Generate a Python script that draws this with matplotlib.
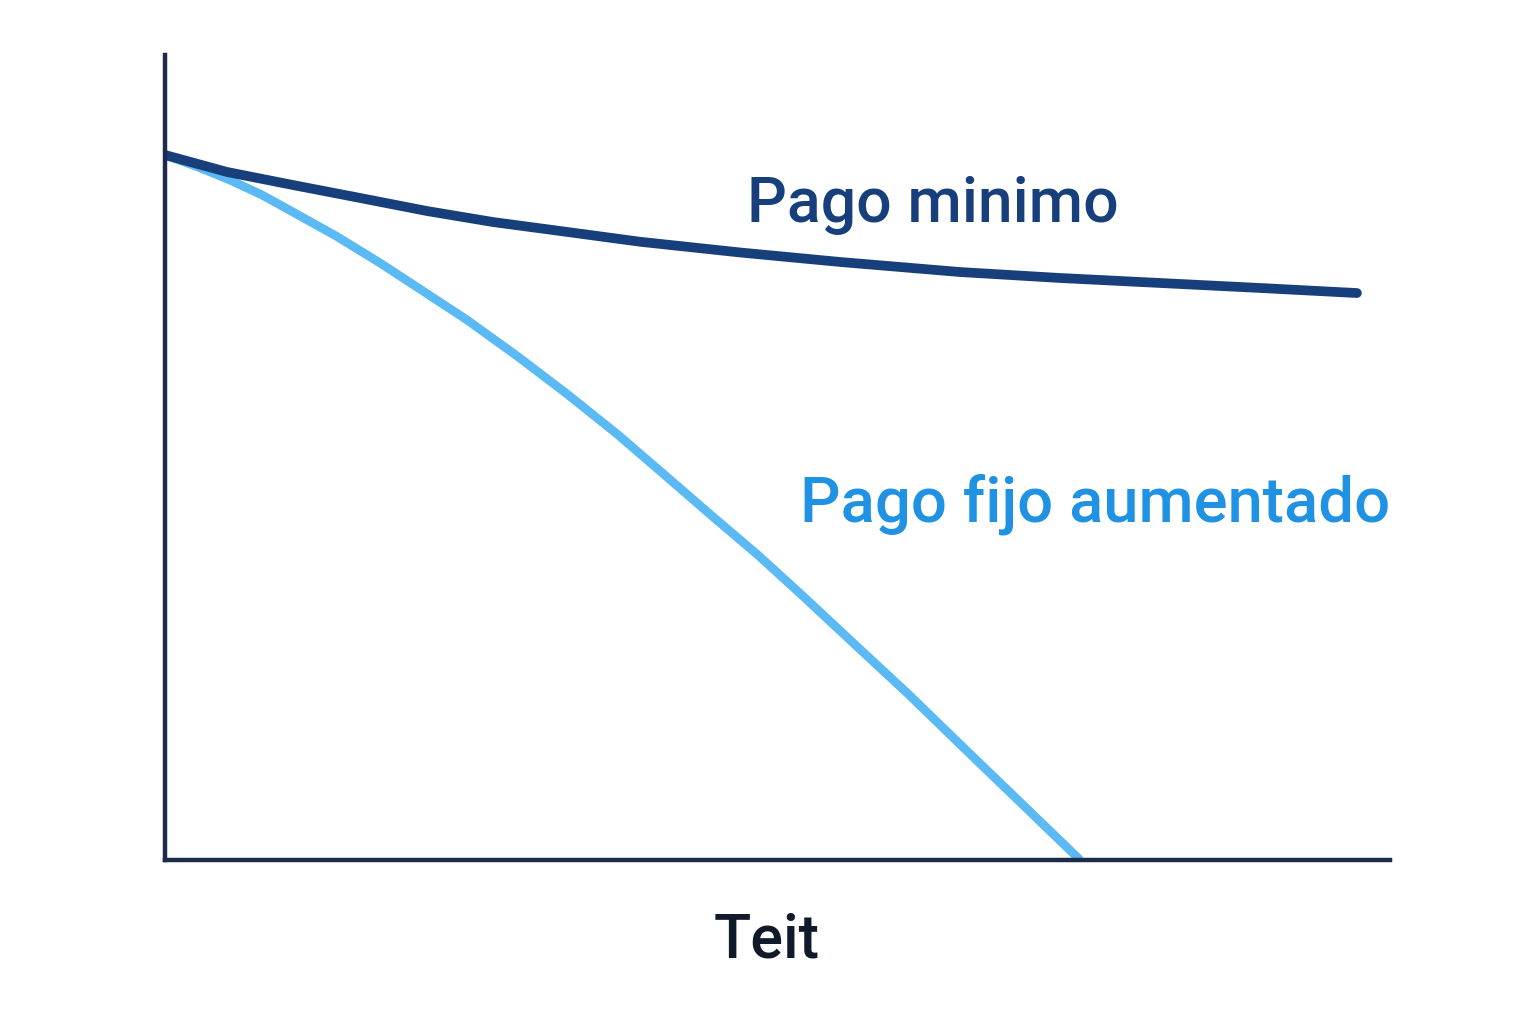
import matplotlib.pyplot as plt

# Curves (time vs. balance, arbitrary units)
minimo_t = [0, 2.53, 5.22, 7.96, 10.69, 13.39, 16.12, 19.39, 23.47, 27.55, 32.45, 36.53, 40.61, 44.69, 48.65]
minimo_saldo = [8758, 8547, 8385, 8224, 8062, 7925, 7814, 7680, 7547, 7429, 7304, 7230, 7168, 7106, 7043]

fijo_t = [0, 1.35, 2.65, 3.96, 5.22, 6.98, 8.78, 10.53, 12.33, 14.37, 16.41, 18.45, 20.49,
          22.33, 24.20, 26.08, 27.96, 30.29, 32.65, 34.98, 37.35]
fijo_saldo = [8758, 8609, 8447, 8261, 8050, 7752, 7416, 7068, 6708, 6261, 5789, 5292, 4758,
              4273, 3789, 3267, 2733, 2075, 1379, 696, 0]

label_minimo = 'Pago minimo'
label_fijo = 'Pago fijo aumentado'
label_x = 'Teit'

navy = '#173f7c'
light = '#5bbaf4'
light_text = '#1f92e3'
axis_col = '#1b2b4b'

plt.rcParams['font.family'] = ['Roboto', 'DejaVu Sans']

fig = plt.figure(figsize=(15.36, 10.24), dpi=100)
ax = fig.add_axes([165 / 1536, 1 - 860 / 1024, 1225 / 1536, 805 / 1024])

ax.plot(fijo_t, fijo_saldo, color=light, linewidth=6.3, solid_capstyle='butt',
        solid_joinstyle='round', zorder=2)
ax.plot(minimo_t, minimo_saldo, color=navy, linewidth=7.0, solid_capstyle='round',
        solid_joinstyle='round', zorder=3)

ax.set_xlim(0, 50)
ax.set_ylim(0, 10000)

for side in ['top', 'right']:
    ax.spines[side].set_visible(False)
for side in ['left', 'bottom']:
    ax.spines[side].set_color(axis_col)
    ax.spines[side].set_linewidth(3.2)
    ax.spines[side].set_zorder(4)
ax.set_xticks([])
ax.set_yticks([])

ax.text(23.76, 7925, label_minimo, color=navy, fontsize=45, fontweight='medium',
        ha='left', va='baseline')
ax.text(25.92, 4199, label_fijo, color=light_text, fontsize=45.6, fontweight='medium',
        ha='left', va='baseline')
ax.text(0.4914, -0.1217, label_x, transform=ax.transAxes, color='#111a2b',
        fontsize=44, fontweight='medium', ha='center', va='baseline')

fig.savefig('out.png', dpi=100, facecolor='white')
